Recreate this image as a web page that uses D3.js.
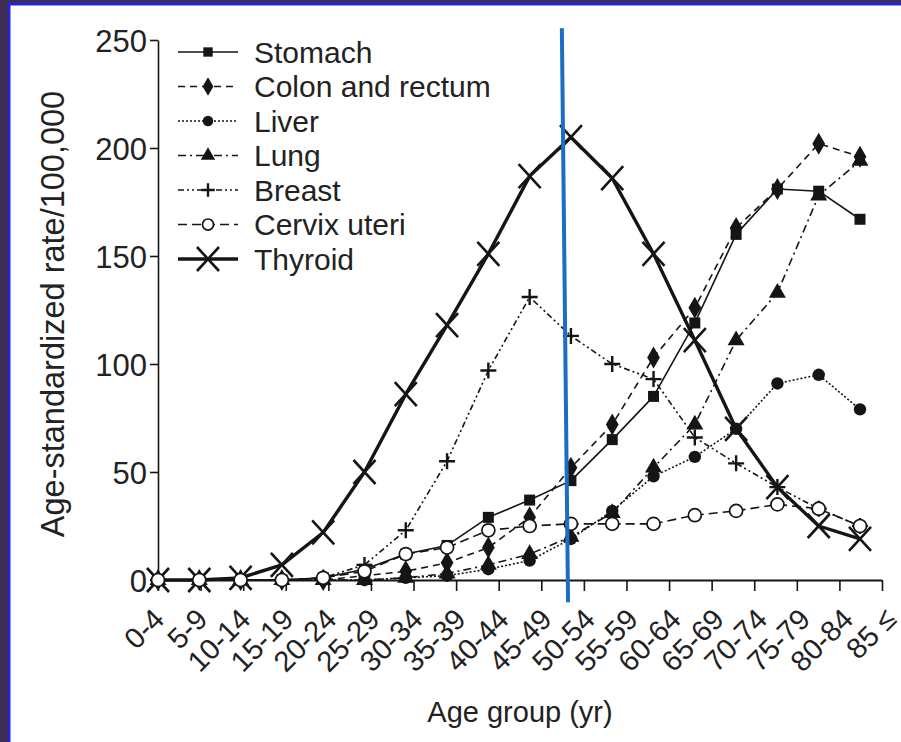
<!DOCTYPE html>
<html><head><meta charset="utf-8">
<script src="https://cdn.jsdelivr.net/npm/d3@7"></script>
<style>html,body{margin:0;padding:0;background:#3c2e55;overflow:hidden} svg{display:block}</style>
</head><body>
<svg id="c" width="901" height="742"></svg>
<script>
const categories = ["0-4","5-9","10-14","15-19","20-24","25-29","30-34","35-39","40-44","45-49","50-54","55-59","60-64","65-69","70-74","75-79","80-84","85 ≤"];
const stomach  = [0,0,0,0,1,5,12,16,29,37,46,65,85,119,160,181,180,167];
const colon    = [0,0,0,0,0,2,4,8,15,29,52,72,103,126,163,181,202,196];
const liver    = [0,0,0,0,0,0,1,2,5,9,19,32,48,57,70,91,95,79];
const lung     = [0,0,0,0,0,0,1,3,7,12,20,31,52,72,111,133,178,194];
const breast   = [0,0,0,0,1,7,23,55,97,131,113,100,93,66,54,43,33,25];
const cervix   = [0,0,0,0,1,4,12,15,23,25,26,26,26,30,32,35,33,25];
const thyroid  = [0,0,1,7,22,50,86,118,151,187,205,186,151,111,70,43,25,19];
const yTicks = [0,50,100,150,200,250];
const seriesNames = ["Stomach","Colon and rectum","Liver","Lung","Breast","Cervix uteri","Thyroid"];
const seriesValues = [stomach, colon, liver, lung, breast, cervix, thyroid];

const styles = {
  "Stomach":          {dash:null,           w:1.6, marker:"square"},
  "Colon and rectum": {dash:"7,5",          w:1.6, marker:"diamond"},
  "Liver":            {dash:"2,2",          w:1.6, marker:"circle"},
  "Lung":             {dash:"8,4,2,4",      w:1.6, marker:"triangle"},
  "Breast":           {dash:"6,3,2,3,2,3",  w:1.6, marker:"plus"},
  "Cervix uteri":     {dash:"9,5",          w:1.6, marker:"open"},
  "Thyroid":          {dash:null,           w:3.4, marker:"x"}
};

const svg = d3.select("#c");
const ink = "#151515";
svg.append("rect").attr("x",0).attr("y",0).attr("width",901).attr("height",742).attr("fill","#3c2e55");
svg.append("rect").attr("x",8).attr("y",3).attr("width",893).attr("height",739).attr("fill","#2222ee");
svg.append("rect").attr("x",10.5).attr("y",5.5).attr("width",891).attr("height",737).attr("fill","#ffffff");

const y = d3.scaleLinear().domain([0,250]).range([580,40]);
const xPts = d3.scalePoint().domain(categories).range([158,860]);
const xAx = d3.scalePoint().domain(categories).range([158,882]);
const xLab = d3.scalePoint().domain(categories).range([166,898]);

const font = "'Liberation Sans', Arial, sans-serif";

// y axis
const gy = svg.append("g").attr("transform","translate(158,0)")
  .call(d3.axisLeft(y).tickValues(yTicks).tickSize(8).tickPadding(3).tickSizeOuter(0));
gy.select(".domain").attr("stroke",ink).attr("stroke-width",1.6);
gy.selectAll(".tick line").attr("stroke",ink).attr("stroke-width",1.6);
gy.selectAll(".tick text").attr("font-family",font).attr("font-size",31).attr("fill","#222").attr("dy","0.36em");

// x axis (ticks) and rotated labels
const gx = svg.append("g").attr("transform","translate(0,580)")
  .call(d3.axisBottom(xAx).tickSize(11).tickSizeOuter(0).tickFormat(""));
gx.select(".domain").attr("stroke",ink).attr("stroke-width",1.8).attr("d","M154,0.5H882");
gx.selectAll(".tick line").attr("stroke",ink).attr("stroke-width",1.6);
svg.append("g").selectAll("text").data(categories).join("text")
  .attr("font-family",font).attr("font-size",29).attr("fill","#222")
  .attr("text-anchor","end")
  .attr("transform", d => `translate(${xLab(d)},621) rotate(-45)`)
  .text(d => d);

// axis titles
svg.append("text").attr("x",520).attr("y",722).attr("text-anchor","middle")
  .attr("font-family",font).attr("font-size",29).attr("fill","#222").text("Age group (yr)");
svg.append("text").attr("transform","translate(64,314) rotate(-90)").attr("text-anchor","middle")
  .attr("font-family",font).attr("font-size",32.5).attr("fill","#222").text("Age-standardized rate/100,000");

function drawMarker(g, type, cx, cy, scale) {
  const s = scale || 1;
  if (type === "square") {
    g.append("path").attr("d", d3.symbol(d3.symbolSquare, 121*s*s)()).attr("transform",`translate(${cx},${cy})`).attr("fill",ink);
  } else if (type === "diamond") {
    g.append("path").attr("d", d3.symbol(d3.symbolDiamond, 140*s*s)()).attr("transform",`translate(${cx},${cy})`).attr("fill",ink);
  } else if (type === "circle") {
    g.append("circle").attr("cx",cx).attr("cy",cy).attr("r",6.2*s).attr("fill",ink);
  } else if (type === "triangle") {
    g.append("path").attr("d", d3.symbol(d3.symbolTriangle, 125*s*s)()).attr("transform",`translate(${cx},${cy})`).attr("fill",ink);
  } else if (type === "plus") {
    const a = 8*s;
    g.append("path").attr("d",`M${cx-a},${cy}H${cx+a}M${cx},${cy-a}V${cy+a}`).attr("stroke",ink).attr("stroke-width",2.4).attr("fill","none");
  } else if (type === "open") {
    g.append("circle").attr("cx",cx).attr("cy",cy).attr("r",6.5*s).attr("fill","#fff").attr("stroke",ink).attr("stroke-width",1.7);
  } else if (type === "x") {
    const a = 11*s, b = 12*s;
    g.append("path").attr("d",`M${cx-a},${cy-b}L${cx+a},${cy+b}M${cx+a},${cy-b}L${cx-a},${cy+b}`).attr("stroke",ink).attr("stroke-width",2.6).attr("fill","none");
  }
}

const line = d3.line().x((d,i)=>xPts(categories[i])).y(d=>y(d));
const plot = svg.append("g");
const order = [6,0,1,2,3,4,5];
order.forEach(k => {
  const name = seriesNames[k], st = styles[name], vals = seriesValues[k];
  const g = plot.append("g");
  g.append("path").datum(vals).attr("d",line).attr("fill","none").attr("stroke",ink)
    .attr("stroke-width",st.w).attr("stroke-dasharray",st.dash).attr("stroke-linejoin","round");
  vals.forEach((v,i)=> drawMarker(g, st.marker, xPts(categories[i]), y(v)));
});

// legend
const ly = d3.scalePoint().domain(seriesNames).range([52,259]);
const lg = svg.append("g");
seriesNames.forEach(name => {
  const st = styles[name], cy = ly(name);
  lg.append("line").attr("x1",178).attr("x2",238).attr("y1",cy).attr("y2",cy).attr("stroke",ink)
    .attr("stroke-width",st.w).attr("stroke-dasharray",st.dash);
  drawMarker(lg, st.marker, 208, cy, name==="Thyroid"?1.0:0.85);
  lg.append("text").attr("x",254).attr("y",cy).attr("dy","0.36em").attr("font-family",font)
    .attr("font-size",30).attr("fill","#222").text(name);
});

// blue annotation line (between 45-49 and 50-54)
const xi = (t) => xPts(categories[9]) + t*(xPts(categories[10]) - xPts(categories[9]));
svg.append("line").attr("x1",xi(0.78)).attr("y1",y(255.5)).attr("x2",xi(0.93)).attr("y2",y(-10.3))
  .attr("stroke","#1a6fc4").attr("stroke-width",4);
</script>
</body></html>
